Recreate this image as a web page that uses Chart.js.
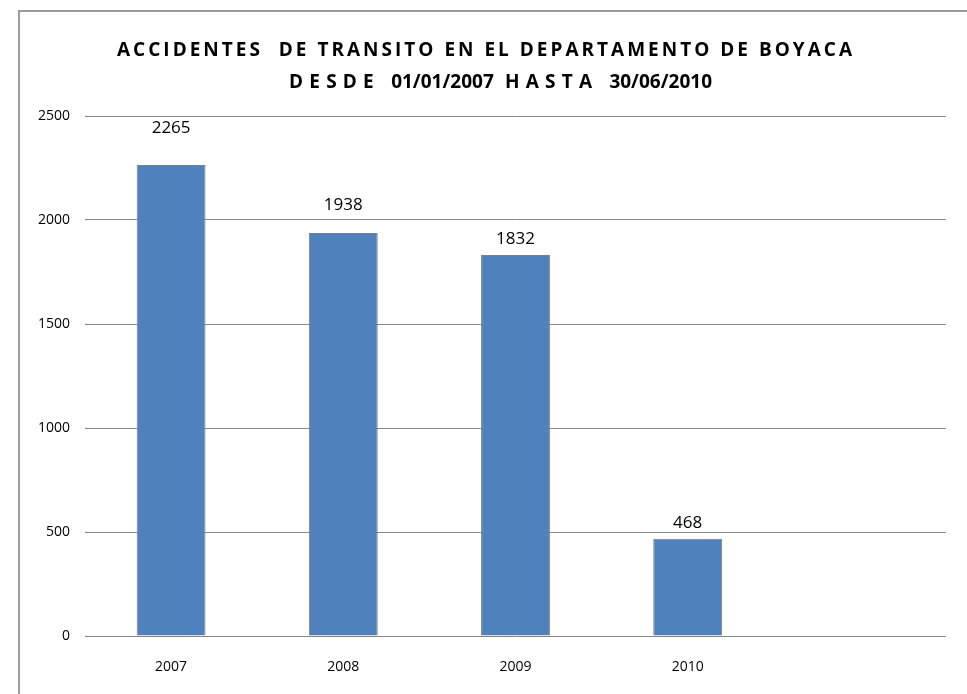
<!DOCTYPE html>
<html>
<head>
<meta charset="utf-8">
<script src="https://cdn.jsdelivr.net/npm/chart.js@4/dist/chart.umd.min.js"></script>
<style>
html, body { margin: 0; padding: 0; background: #fff; }
#wrap { position: relative; width: 967px; height: 694px; overflow: hidden; }
#frame { position: absolute; left: 18px; top: 10px; right: 0; bottom: 0;
         border-left: 2px solid #9c9c9c; border-top: 2px solid #9c9c9c; pointer-events: none; }
canvas { position: absolute; left: 0; top: 0; }
</style>
</head>
<body>
<div id="wrap">
    <canvas id="accidentesGrafico" width="967" height="694"></canvas>
    <div id="frame"></div>
</div>
<script>
const years = ['2007', '2008', '2009', '2010', ''];
const accidents = [2265, 1938, 1832, 468, null];
const yTicks = [0, 500, 1000, 1500, 2000, 2500];
const titleLine1 = 'ACCIDENTES  DE TRANSITO EN EL DEPARTAMENTO DE BOYACA';
const titleLine2 = ['DESDE ', '01/01/2007', ' HASTA ', '30/06/2010'];

// draws text char by char, stretching the spaced parts to fill x0..x1
function drawSegments(ctx, segs, x0, x1, y) {
    let natural = 0, gaps = 0;
    segs.forEach(s => {
        for (const ch of s.text) {
            natural += ctx.measureText(ch).width;
            if (s.spaced) gaps++;
        }
    });
    const sp = gaps ? (x1 - x0 - natural) / gaps : 0;
    let x = x0;
    segs.forEach(s => {
        for (const ch of s.text) {
            ctx.fillText(ch, x, y);
            x += ctx.measureText(ch).width + (s.spaced ? sp : 0);
        }
    });
}

const spacedTitle = {
    id: 'spacedTitle',
    afterDraw(chart) {
        const ctx = chart.ctx;
        ctx.save();
        ctx.fillStyle = '#000';
        ctx.textAlign = 'left';
        ctx.textBaseline = 'alphabetic';
        ctx.font = 'bold 19px "Open Sans"';
        drawSegments(ctx, [{ text: titleLine1, spaced: true }], 117, 855, 56);
        drawSegments(ctx, titleLine2.map((t, i) => ({ text: t, spaced: i % 2 === 0 })), 289, 712, 88);
        ctx.restore();
    }
};

const barLabels = {
    id: 'barLabels',
    afterDatasetsDraw(chart, args, opts) {
        const ctx = chart.ctx;
        const meta = chart.getDatasetMeta(0);
        ctx.save();
        ctx.fillStyle = '#000';
        ctx.font = '17px "Open Sans"';
        ctx.textAlign = 'center';
        ctx.textBaseline = 'alphabetic';
        meta.data.forEach((bar, i) => {
            const v = chart.data.datasets[0].data[i];
            if (v === null) return;
            ctx.fillText(String(v), bar.x, bar.y - opts.gaps[i]);
        });
        ctx.restore();
    }
};

Chart.defaults.font.family = '"Open Sans", sans-serif';
Chart.defaults.color = '#000';

new Chart(document.getElementById('accidentesGrafico').getContext('2d'), {
    type: 'bar',
    data: {
        labels: years,
        datasets: [{
            data: accidents,
            backgroundColor: '#4f81bd',
            borderColor: '#7f7f7f',
            borderWidth: 1,
            categoryPercentage: 0.8,
            barPercentage: 0.5
        }]
    },
    options: {
        responsive: false,
        animation: false,
        devicePixelRatio: 1,
        layout: { padding: { left: 20, right: 21, top: 116, bottom: 0 } },
        plugins: {
            legend: { display: false },
            title: { display: false },
            tooltip: { enabled: false },
            barLabels: { gaps: [32, 23, 11, 11] }
        },
        scales: {
            x: {
                grid: { display: false },
                border: { display: false },
                ticks: { font: { size: 14 }, padding: 15 },
                afterFit(scale) { scale.height = 58; }
            },
            y: {
                min: yTicks[0],
                max: yTicks[yTicks.length - 1],
                afterBuildTicks(scale) { scale.ticks = yTicks.map(v => ({ value: v })); },
                grid: { color: '#868686', drawTicks: false },
                border: { display: false },
                ticks: { font: { size: 14 }, padding: 15, callback: v => String(v) },
                afterFit(scale) { scale.width = 65; }
            }
        }
    },
    plugins: [spacedTitle, barLabels]
});
</script>
</body>
</html>
